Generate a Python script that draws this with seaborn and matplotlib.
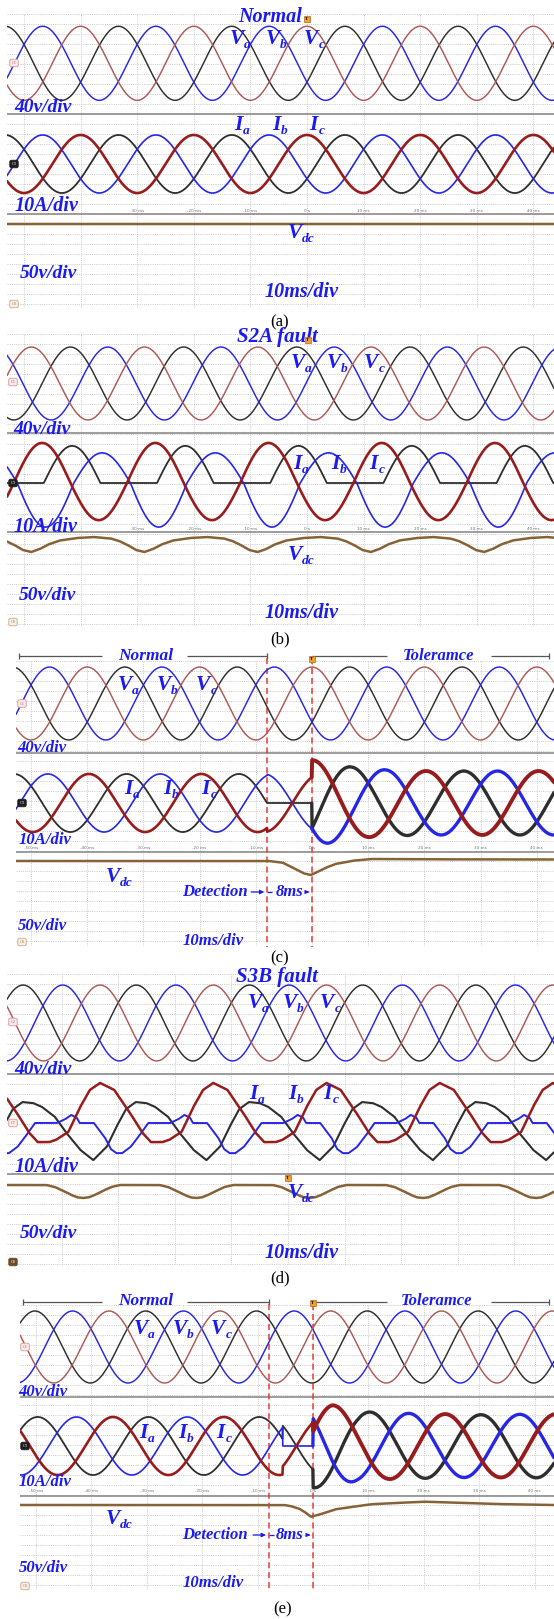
import numpy as np
import matplotlib
matplotlib.use("Agg")
import matplotlib.pyplot as plt
import seaborn as sns

# ================= data =================
PERIOD_MS = 20.0                      # 50 Hz supply
V_PER_DIV, A_PER_DIV, VDC_PER_DIV = 40.0, 10.0, 50.0
VDC_LEVEL = 150.0                     # reference DC-link level (V)
TICK_MS = [-50, -40, -30, -20, -10, 0, 10, 20, 30, 40]
TICK_TEXT = ["-50 ms", "-40 ms", "-30 ms", "-20 ms", "-10 ms", "0 s",
             "10 ms", "20 ms", "30 ms", "40 ms"]
CAPTIONS = ["(a)", "(b)", "(c)", "(d)", "(e)"]
TITLES = ["Normal", "S2A fault", "S3B fault"]
STATE_LABELS = ["Normal", "Toleramce"]
DIV_LABELS = ["40v/div", "10A/div", "50v/div", "10ms/div"]

# phase order in every list below: black, blue, red trace
# (a) normal operation
A_V_PEAK = [6.7, 13.3, 0.0]      # ms of positive peaks
A_V_AMP = [40.3, 40.3, 40.3]     # V
A_I_PEAK = [6.7, 13.3, 0.0]
A_I_AMP = [7.9, 7.9, 7.9]        # A
A_VDC_DROP = 0.0                 # V

# (b) S2A open-switch fault
B_V_PEAK = [-1.8, 4.8, -8.7]
B_V_AMP = [39.7, 39.7, 39.7]
B_I_PEAK = [-1.5, 3.8, -6.8]
B_I_POS = [10.1, 8.2, 10.9]
B_I_NEG = [0.0, 12.0, 10.1]
B_VDC_MIN = -8.7
B_VDC_DT = [-6.0, -4.5, -3.0, -1.5, 0.0, 1.5, 3.0, 5.0, 8.0, 11.0]
B_VDC_DROP = [-2.0, -5.4, -10.9, -17.7, -20.4, -16.3, -10.2, -4.8, -1.4, 0.0]

# (c) S2A fault -> detection -> tolerant control
C_V_PEAK = [6.7, 13.3, 0.0]
C_V_AMP = [39.7, 39.7, 39.7]
C_I_PEAK = [7.0, 13.0, 0.3]
C_I_AMP = [7.9, 7.9, 7.9]
C_EVENTS = [-8.0, 0.0]
C_FAULT_PEAK = 1.5
C_POST_T = [0.0, 3.0, 7.0, 10.0, 13.5, 20.0, 50.0]
C_POST_AMP = [11.7, 10.9, 9.8, 9.3, 9.0, 8.7, 8.7]
C_VDC_T = [-60.0, -7.7, -5.2, -2.7, -1.5, -0.2, 1.1, 2.5, 4.2, 7.3, 10.5, 20.0, 50.0]
C_VDC_DROP = [0.0, 0.0, -2.3, -12.0, -16.8, -19.0, -14.5, -9.0, -4.0, 0.4, 2.7, 2.3, 2.0]

# (d) S3B open-switch fault (one period of each distorted current)
D_V_PEAK = [-6.8, 0.2, 6.8]
D_V_AMP = [41.3, 41.3, 41.3]
D_IA_REF = -34.4
D_IA_DT = [0.0, 2.4, 4.1, 5.8, 7.5, 9.4, 10.9, 13.2, 15.3, 17.7]
D_IA_VAL = [-10.1, -6.4, -1.0, 3.8, 5.7, 5.4, 4.4, 1.7, -2.8, -7.3]
D_IB_REF = -30.3
D_IB_DT = [0.0, 1.0, 2.5, 4.0, 5.6, 9.5, 11.0, 12.0, 13.0, 13.5, 16.0, 18.0, 19.0]
D_IB_VAL = [-8.2, -8.2, -6.5, -3.5, 0.0, 0.0, 1.1, 2.2, 1.4, 0.0, 0.0, -4.1, -7.1]
D_IC_REF = -33.2
D_IC_DT = [0.0, 2.5, 5.3, 7.5, 9.0, 11.0, 12.2, 14.4, 16.5, 18.2]
D_IC_VAL = [10.9, 9.0, 2.7, -2.7, -5.2, -5.2, -4.6, -2.4, 4.4, 9.0]
D_VDC_MIN = -16.2
D_VDC_DT = [-6.5, -5.0, -3.5, -2.0, -1.0, 0.0, 1.0, 2.0, 3.5, 5.0, 6.5]
D_VDC_DROP = [0.0, -2.7, -8.0, -13.8, -16.8, -17.7, -16.8, -13.8, -8.0, -2.7, 0.0]

# (e) S3B fault -> detection -> tolerant control
E_V_PEAK = [9.8, 16.6, 3.2]
E_V_AMP = [39.2, 39.2, 39.2]
E_I_PEAK = [10.3, 17.3, 3.9]
E_I_AMP = [7.9, 7.9, 7.9]
E_EVENTS = [-8.0, 0.0]
E_CLAMP = -5.5
E_FAULT_PEAK = 2.0
E_POST_T = [0.0, 3.4, 8.0, 13.6, 20.0, 30.0, 50.0]
E_POST_AMP = [11.4, 11.2, 9.4, 9.0, 8.8, 8.5, 8.8]
E_VDC_T = [-60.0, -5.2, -4.0, -2.5, -1.5, -0.4, 0.9, 4.1, 7.3, 10.5, 13.7, 20.0, 26.4, 32.8, 42.3, 50.0]
E_VDC_DROP = [0.0, 0.0, -1.5, -5.0, -9.5, -15.9, -13.6, -5.8, -2.3, 1.0, 2.3, 4.5, 3.1, 1.4, 0.0, 0.0]

# ================= styling / layout =================
W, H = 554, 1619
PX_PER_DIV = 36.75
COL_BLACK, COL_BLUE, COL_REDV, COL_REDI, COL_DC = "#2e2e2e", "#2626e8", "#ad5a56", "#981c1c", "#876237"
TXT = "#1b1bf0"
GRID = "#c4c4c4"
SERIF = ["Liberation Serif", "DejaVu Serif"]

GEOM = [
    dict(left=7, top=14, sep1=114, sep2=214, bottom=308, t0=307, pxms=5.66, vc=63.3, ic=164, dcy=224),
    dict(left=7, top=334, sep1=433, sep2=532, bottom=626, t0=307, pxms=5.66, vc=383.5, ic=483, dcy=537),
    dict(left=16, top=661, sep1=753, sep2=852, bottom=946, t0=312, pxms=5.62, vc=703.5, ic=803, dcy=861),
    dict(left=7, top=974, sep1=1074, sep2=1174, bottom=1265, t0=288, pxms=5.66, vc=1023, ic=1123, dcy=1185),
    dict(left=20, top=1305, sep1=1397, sep2=1496, bottom=1590, t0=313, pxms=5.54, vc=1347, ic=1446, dcy=1505),
]

sns.set_theme(style="white")
plt.rcParams["font.family"] = SERIF

fig = plt.figure(figsize=(W / 100, H / 100), dpi=100)
fig.patch.set_facecolor("white")
W_RAD = 2 * np.pi / PERIOD_MS


def make_panel(g):
    tmin = (g["left"] - g["t0"]) / g["pxms"]
    tmax = (W - g["t0"]) / g["pxms"]
    rect = [g["left"] / W, 1 - g["bottom"] / H, (W - g["left"]) / W, (g["bottom"] - g["top"]) / H]
    bg = fig.add_axes(rect)
    bg.axis("off")
    for tk in range(-60, 61, 10):
        if tmin + 0.3 < tk < tmax - 0.3:
            bg.axvline(tk, color=GRID, lw=0.6, ls=(0, (1.2, 1.4)), zorder=0)
    for y in np.arange(g["top"], g["bottom"] + 0.5, 10.0):
        bg.axhline(y, color=GRID, lw=0.6, ls=(0, (1.2, 1.4)), zorder=0)
    for y in (g["sep1"], g["sep2"]):
        bg.axhline(y, color="#8c8c8c", lw=1.2, zorder=1)
    bg.set_xlim(tmin, tmax)
    bg.set_ylim(g["bottom"], g["top"])
    chans = {}
    for key, center, per_div, base in (("v", g["vc"], V_PER_DIV, 0.0),
                                       ("i", g["ic"], A_PER_DIV, 0.0),
                                       ("dc", g["dcy"], VDC_PER_DIV, VDC_LEVEL)):
        ax = fig.add_axes(rect)
        ax.patch.set_alpha(0)
        ax.axis("off")
        k = PX_PER_DIV / per_div
        chans[key] = (ax, (base + (center - g["bottom"]) / k, base + (center - g["top"]) / k))
    t = np.linspace(tmin, tmax, 1600)
    return bg, chans, t, (tmin, tmax)


def draw(ax, t, y, color, lw, z=3):
    sns.lineplot(x=t, y=y, ax=ax, color=color, linewidth=lw, estimator=None,
                 sort=False, legend=False, zorder=z)


def finish(chans, lim):
    for ax, yl in chans.values():
        ax.set_xlim(*lim)
        ax.set_ylim(*yl)
        ax.axis("off")


def sine(t, peak, amp):
    return amp * np.cos(W_RAD * (t - peak))


def btxt(x, y, s, size, ha="center", color=TXT, style="italic", weight="bold"):
    fig.text(x / W, 1 - y / H, s, ha=ha, va="center", fontsize=size, fontweight=weight,
             fontstyle=style, color=color, family=SERIF)


def sublabel(xs, y, main, sub, size=15.5):
    btxt(xs, y, main, size, ha="right")
    btxt(xs + 0.3, y + 6, sub, size * 0.62, ha="left")


def caption(x, y, s):
    fig.text(x / W, 1 - y / H, s, ha="center", va="center", fontsize=12, color="black",
             family=SERIF)


def tag(x, y, s, fc, ec, tc):
    fig.text(x / W, 1 - y / H, s, ha="center", va="center", fontsize=3.2, color=tc,
             bbox=dict(boxstyle="round,pad=0.4", fc=fc, ec=ec, lw=0.6), zorder=6)


def trig(x, y):
    fig.text(x / W, 1 - y / H, "T", ha="center", va="center", fontsize=3.6, color="black",
             fontweight="bold", bbox=dict(boxstyle="square,pad=0.25", fc="#f0a030", ec="#b86a10", lw=0.5),
             zorder=7)


def ticklabels(bg, y, skip=()):
    lo, hi = bg.get_xlim()
    for tk, s in zip(TICK_MS, TICK_TEXT):
        if lo + 1 < tk < hi - 1 and tk not in skip:
            bg.text(tk, y, s, fontsize=3.0, color="#707070", ha="center", va="center",
                    family="DejaVu Sans", zorder=2)


def channel_tags(x, ys, styles):
    for y, (s, fc, ec, tc) in zip(ys, styles):
        tag(x, y, s, fc, ec, tc)


PINK = ("#fbe9e9", "#d49a9a", "#b46a6a")
BLACKTAG = ("#1e1e1e", "#1e1e1e", "white")
TAN = ("#f7efe5", "#c9aa84", "#a48462")
BROWN = ("#6e4a22", "#6e4a22", "white")

V_COLORS = [COL_BLACK, COL_BLUE, COL_REDV]
I_COLORS = [COL_BLACK, COL_BLUE, COL_REDI]
I_LW = [1.3, 1.2, 1.9]
V_LW = 1.05

# ----------------------------------------------------------------- (a)
bg, ch, t, lim = make_panel(GEOM[0])
for i in range(3):
    draw(ch["v"][0], t, sine(t, A_V_PEAK[i], A_V_AMP[i]), V_COLORS[i], V_LW)
    draw(ch["i"][0], t, sine(t, A_I_PEAK[i], A_I_AMP[i]), I_COLORS[i], I_LW[i])
draw(ch["dc"][0], t, np.full_like(t, VDC_LEVEL + A_VDC_DROP), COL_DC, 1.8)
finish(ch, lim)
ticklabels(bg, 211, skip=(-50, -40))
btxt(270, 17, TITLES[0], 14.5)
trig(307, 19)
for xs, s in zip((244, 280, 318), "abc"):
    sublabel(xs, 39, "V", s)
for xs, s in zip((243, 281, 318), "abc"):
    sublabel(xs, 125, "I", s)
sublabel(302, 233, "V", "dc")
btxt(43, 108, DIV_LABELS[0], 14)
btxt(46, 206, DIV_LABELS[1], 14.5)
btxt(48, 273, DIV_LABELS[2], 14)
btxt(302, 292, DIV_LABELS[3], 14.5)
channel_tags(14, (63, 164, 304), ((("C1",) + PINK), (("C3",) + BLACKTAG), (("C8",) + TAN)))
caption(280, 322, CAPTIONS[0])

# ----------------------------------------------------------------- (b)
bg, ch, t, lim = make_panel(GEOM[1])
for i in range(3):
    draw(ch["v"][0], t, sine(t, B_V_PEAK[i], B_V_AMP[i]), V_COLORS[i], V_LW)
    c = np.cos(W_RAD * (t - B_I_PEAK[i]))
    draw(ch["i"][0], t, np.where(c >= 0, B_I_POS[i] * c, B_I_NEG[i] * c), I_COLORS[i], I_LW[i])
vdc = VDC_LEVEL + np.interp(t - B_VDC_MIN, B_VDC_DT, B_VDC_DROP, period=PERIOD_MS)
draw(ch["dc"][0], t, vdc, COL_DC, 1.8)
finish(ch, lim)
ticklabels(bg, 529, skip=(-50, -40))
btxt(277, 337, TITLES[1], 15)
trig(308, 340)
for xs, s in zip((305, 341, 378), "abc"):
    sublabel(xs, 363, "V", s)
for xs, s in zip((302, 340, 378), "abc"):
    sublabel(xs, 464, "I", s)
sublabel(302, 555, "V", "dc")
btxt(42, 430, DIV_LABELS[0], 14)
btxt(45, 527, DIV_LABELS[1], 14.5)
btxt(47, 595, DIV_LABELS[2], 14)
btxt(302, 613, DIV_LABELS[3], 14.5)
channel_tags(13, (382, 483, 622), ((("C1",) + PINK), (("C3",) + BLACKTAG), (("C8",) + TAN)))
caption(280, 639, CAPTIONS[1])


def tolerant_panel(g, v_peak, v_amp, i_peak, i_amp, events, clamp, fault_peak, faulty,
                   post_t, post_amp, vdc_t, vdc_drop, y_bracket, y_ticks, y_det, tag_x, tags,
                   gaps_px):
    bg, ch, t, lim = make_panel(g)
    for i in range(3):
        draw(ch["v"][0], t, sine(t, v_peak[i], v_amp[i]), V_COLORS[i], V_LW)
    healthy = sine(t, fault_peak, i_amp[2])
    fault_vals = {faulty: np.zeros_like(t)}
    others = [k for k in range(3) if k != faulty]
    fault_vals[2] = healthy
    fault_vals[[k for k in others if k != 2][0]] = -healthy
    env = np.interp(t, post_t, post_amp)
    pre_end = t < events[1]
    for i in range(3):
        normal = sine(t, i_peak[i], i_amp[i])
        y = np.where(t < clamp, normal, fault_vals[i])
        n_pre = int(pre_end.sum())
        draw(ch["i"][0], t[:n_pre], y[:n_pre], I_COLORS[i], I_LW[i])
        post = env * np.cos(W_RAD * (t - i_peak[i]))
        tt = np.concatenate([t[n_pre - 1:n_pre], t[n_pre:]])
        yy = np.concatenate([y[n_pre - 1:n_pre], post[n_pre:]])
        draw(ch["i"][0], tt, yy, I_COLORS[i], 2.4 if i != 2 else 2.8)
    draw(ch["dc"][0], t, VDC_LEVEL + np.interp(t, vdc_t, vdc_drop), COL_DC, 1.8)
    finish(ch, lim)
    # event markers
    bg.vlines(events, y_bracket + 2, g["bottom"] + 1, colors="#e53c36", lw=1.1,
              linestyles=(0, (4, 2.5)), clip_on=False, zorder=5)
    # state brackets (gaps left for the labels)
    to_ms = lambda x: (x - g["t0"]) / g["pxms"]
    tl, tr = lim[0] + 0.6, lim[1] - 0.9
    g1, g2, g3, g4 = [to_ms(x) for x in gaps_px]
    for a, b in ((tl, g1), (g2, events[0]), (events[1], g3), (g4, tr)):
        bg.hlines(y_bracket, a, b, colors="#555555", lw=0.9, clip_on=False, zorder=4)
    bg.vlines([tl, events[0], tr], y_bracket - 3, y_bracket + 3, colors="#555555", lw=0.9,
              clip_on=False, zorder=4)
    ticklabels(bg, y_ticks)
    # detection arrows
    bg.annotate("", xy=(events[0], y_det), xytext=(events[0] - 3.3, y_det),
                arrowprops=dict(arrowstyle="-|>", color=TXT, lw=0.9, mutation_scale=6),
                annotation_clip=False)
    bg.annotate("", xy=(events[1], y_det), xytext=(events[1] - 1.4, y_det),
                arrowprops=dict(arrowstyle="-|>", color=TXT, lw=0.9, mutation_scale=5),
                annotation_clip=False)
    bg.hlines(y_det, events[0], events[0] + 0.9, colors=TXT, lw=0.9, clip_on=False)
    channel_tags(tag_x, (g["vc"], g["ic"], g["bottom"] - 4), tags)
    return bg


def bracket_texts(y, x_norm, x_tol):
    btxt(x_norm, y, STATE_LABELS[0], 12.5)
    btxt(x_tol, y, STATE_LABELS[1], 12)


# ----------------------------------------------------------------- (c)
tolerant_panel(GEOM[2], C_V_PEAK, C_V_AMP, C_I_PEAK, C_I_AMP, C_EVENTS, C_EVENTS[0],
               C_FAULT_PEAK, 0, C_POST_T, C_POST_AMP, C_VDC_T, C_VDC_DROP,
               656, 848, 892, 22,
               ((("C1",) + PINK), (("C3",) + BLACKTAG), (("C8",) + TAN)),
               (102, 187, 387, 491))
bracket_texts(656, 146, 439)
trig(312, 659)
for xs, s in zip((132, 171, 210), "abc"):
    sublabel(xs, 685, "V", s)
for xs, s in zip((133, 172, 210), "abc"):
    sublabel(xs, 789, "I", s)
sublabel(120, 877, "V", "dc")
btxt(42, 748, DIV_LABELS[0], 12)
btxt(45, 840, DIV_LABELS[1], 12)
btxt(42, 926, DIV_LABELS[2], 12)
btxt(213, 941, DIV_LABELS[3], 12)
btxt(215, 892, "Detection", 12)
btxt(290, 892, "8ms", 12)
caption(280, 958, CAPTIONS[2])

# ----------------------------------------------------------------- (d)
bg, ch, t, lim = make_panel(GEOM[3])
for i in range(3):
    draw(ch["v"][0], t, sine(t, D_V_PEAK[i], D_V_AMP[i]), V_COLORS[i], V_LW)
for ref, dts, vals, col, lw in ((D_IA_REF, D_IA_DT, D_IA_VAL, COL_BLACK, 1.5),
                                (D_IB_REF, D_IB_DT, D_IB_VAL, COL_BLUE, 1.4),
                                (D_IC_REF, D_IC_DT, D_IC_VAL, COL_REDI, 1.8)):
    draw(ch["i"][0], t, np.interp(t - ref, dts, vals, period=PERIOD_MS), col, lw)
draw(ch["dc"][0], t, VDC_LEVEL + np.interp(t - D_VDC_MIN, D_VDC_DT, D_VDC_DROP, period=PERIOD_MS),
     COL_DC, 1.8)
finish(ch, lim)
btxt(277, 977, TITLES[2], 15)
trig(288, 1178)
for xs, s in zip((262, 297, 334), "abc"):
    sublabel(xs, 1003, "V", s)
for xs, s in zip((258, 297, 332), "abc"):
    sublabel(xs, 1094, "I", s)
sublabel(302, 1193, "V", "dc")
btxt(43, 1069, DIV_LABELS[0], 14)
btxt(46, 1167, DIV_LABELS[1], 14.5)
btxt(48, 1233, DIV_LABELS[2], 14)
btxt(302, 1253, DIV_LABELS[3], 14.5)
channel_tags(13, (1022, 1123, 1262), ((("C2",) + PINK), (("C7",) + PINK), (("C8",) + BROWN)))
caption(280, 1278, CAPTIONS[3])

# ----------------------------------------------------------------- (e)
tolerant_panel(GEOM[4], E_V_PEAK, E_V_AMP, E_I_PEAK, E_I_AMP, E_EVENTS, E_CLAMP,
               E_FAULT_PEAK, 1, E_POST_T, E_POST_AMP, E_VDC_T, E_VDC_DROP,
               1302, 1491, 1535, 25,
               ((("C1",) + PINK), (("C3",) + BLACKTAG), (("C8",) + TAN)),
               (102, 187, 387, 491))
bracket_texts(1301, 146, 437)
trig(313, 1303)
for xs, s in zip((148, 187, 225), "abc"):
    sublabel(xs, 1329, "V", s)
for xs, s in zip((148, 187, 225), "abc"):
    sublabel(xs, 1433, "I", s)
sublabel(120, 1519, "V", "dc")
btxt(43, 1392, DIV_LABELS[0], 12)
btxt(45, 1482, DIV_LABELS[1], 12)
btxt(43, 1568, DIV_LABELS[2], 12)
btxt(213, 1583, DIV_LABELS[3], 12)
btxt(215, 1535, "Detection", 12)
btxt(290, 1535, "8ms", 12)
caption(283, 1609, CAPTIONS[4])

fig.savefig("out.png", dpi=100, facecolor="white")
